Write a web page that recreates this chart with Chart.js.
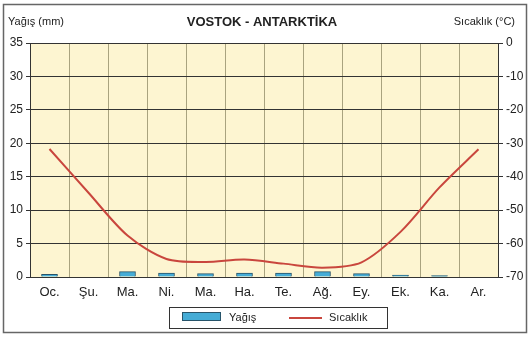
<!DOCTYPE html>
<html>
<head>
<meta charset="utf-8">
<script src="https://cdn.jsdelivr.net/npm/chart.js@4/dist/chart.umd.min.js"></script>
<style>
  body { margin: 0; background: #fff; }
  #wrap { width: 528px; height: 337px; }
</style>
</head>
<body>
<div id="wrap"><canvas id="grafik" width="528" height="337"></canvas></div>
<script>
// Veriler
const aylar = ['Oc.', 'Şu.', 'Ma.', 'Ni.', 'Ma.', 'Ha.', 'Te.', 'Ağ.', 'Ey.', 'Ek.', 'Ka.', 'Ar.'];
const yagis = [0.4, 0, 0.8, 0.6, 0.5, 0.6, 0.6, 0.8, 0.5, 0.3, 0.2, 0];
const sicaklik = [-31.7, -44.8, -57.6, -64.6, -65.5, -64.8, -66.0, -67.2, -65.6, -56.5, -43.2, -31.8];
const yagisEksen = { min: 0, max: 35, adim: 5 };
const sicaklikEksen = { min: -70, max: 0, adim: 10 };

const FONT = 'Liberation Sans, Arial, sans-serif';

// Arka plan, çerçeve, başlıklar ve lejant
const cizimler = {
    id: 'cizimler',
    beforeDraw(chart) {
        const { ctx, chartArea: a } = chart;
        ctx.save();
        ctx.fillStyle = '#fff';
        ctx.fillRect(0, 0, chart.width, chart.height);
        ctx.fillStyle = '#fdf5d1';
        ctx.fillRect(a.left, a.top, a.right - a.left, a.bottom - a.top);
        ctx.restore();
    },
    afterDraw(chart) {
        const ctx = chart.ctx;
        ctx.save();
        // dış çerçeve
        ctx.strokeStyle = '#666';
        ctx.lineWidth = 1.5;
        ctx.strokeRect(3.5, 4.5, 523, 328);

        ctx.fillStyle = '#222';
        ctx.textBaseline = 'middle';
        ctx.font = 'bold 13px ' + FONT;
        ctx.textAlign = 'center';
        ctx.fillText('VOSTOK - ANTARKTİKA', 262, 22);

        ctx.font = '11px ' + FONT;
        ctx.textAlign = 'left';
        ctx.fillText('Yağış (mm)', 8, 22);
        ctx.textAlign = 'right';
        ctx.fillText('Sıcaklık (°C)', 515, 22);

        // lejant
        ctx.strokeStyle = '#333';
        ctx.lineWidth = 1;
        ctx.strokeRect(169.5, 307.5, 218, 21);
        ctx.fillStyle = '#45acd6';
        ctx.fillRect(182.5, 312.5, 38, 8);
        ctx.strokeStyle = '#27546a';
        ctx.strokeRect(182.5, 312.5, 38, 8);
        ctx.strokeStyle = '#c9463d';
        ctx.lineWidth = 2;
        ctx.beginPath();
        ctx.moveTo(289, 318);
        ctx.lineTo(322, 318);
        ctx.stroke();
        ctx.fillStyle = '#222';
        ctx.textAlign = 'left';
        ctx.fillText('Yağış', 229, 318);
        ctx.fillText('Sıcaklık', 329, 318);
        ctx.restore();
    }
};

new Chart(document.getElementById('grafik'), {
    type: 'bar',
    data: {
        labels: aylar,
        datasets: [{
            label: 'Sıcaklık',
            type: 'line',
            data: sicaklik,
            yAxisID: 'y1',
            borderColor: '#c9463d',
            borderWidth: 2,
            pointRadius: 0,
            tension: 0.3,
            order: 0
        }, {
            label: 'Yağış',
            data: yagis,
            yAxisID: 'y',
            backgroundColor: '#45acd6',
            borderColor: '#27546a',
            borderWidth: 1,
            barThickness: 16,
            order: 1
        }]
    },
    options: {
        responsive: false,
        animation: false,
        layout: { padding: { top: 43, left: 0, right: 0, bottom: 0 } },
        plugins: { legend: { display: false }, tooltip: { enabled: false } },
        scales: {
            x: {
                grid: { color: '#a9a37f', offset: true, drawTicks: false },
                border: { display: false },
                ticks: { color: '#222', font: { family: FONT, size: 13 }, padding: 8, maxRotation: 0 },
                afterFit: s => { s.height = 60; }
            },
            y: {
                position: 'left',
                min: yagisEksen.min,
                max: yagisEksen.max,
                grid: { color: '#333', tickLength: 4 },
                border: { color: '#333' },
                ticks: { stepSize: yagisEksen.adim, color: '#222', font: { family: FONT, size: 12 }, padding: 3 },
                afterFit: s => { s.width = 30; }
            },
            y1: {
                position: 'right',
                min: sicaklikEksen.min,
                max: sicaklikEksen.max,
                grid: { drawOnChartArea: false, color: '#333', tickLength: 5 },
                border: { color: '#333' },
                ticks: { stepSize: sicaklikEksen.adim, color: '#222', font: { family: FONT, size: 12 }, padding: 3 },
                afterFit: s => { s.width = 30; }
            }
        }
    },
    plugins: [cizimler]
});
</script>
</body>
</html>
